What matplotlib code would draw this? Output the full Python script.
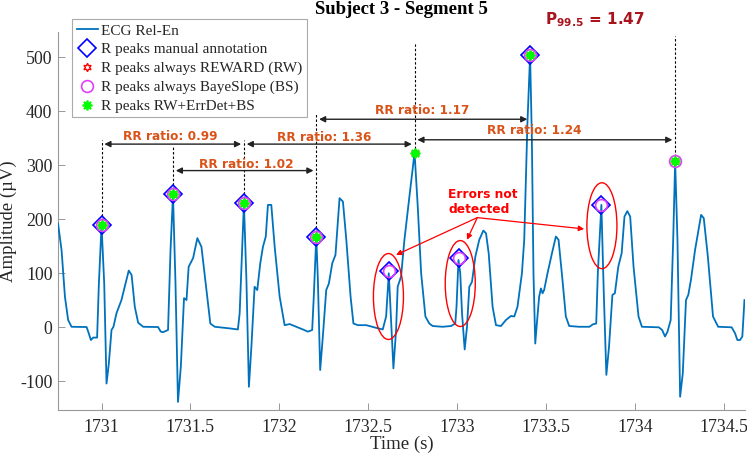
import matplotlib
matplotlib.use("Agg")
import matplotlib.pyplot as plt
from matplotlib.patches import Ellipse

# ---------------- data ----------------
ecg_t = [1730.755, 1730.775, 1730.794, 1730.812, 1730.831, 1730.916, 1730.925, 1730.94, 1730.953, 1730.975,
         1730.985, 1731.000, 1731.015, 1731.028, 1731.041, 1731.056, 1731.067, 1731.084, 1731.112, 1731.135,
         1731.153, 1731.169, 1731.187, 1731.206, 1731.234, 1731.318, 1731.333, 1731.346, 1731.374, 1731.388,
         1731.402, 1731.416, 1731.430, 1731.446, 1731.464, 1731.478, 1731.490, 1731.515, 1731.539, 1731.562,
         1731.590, 1731.612, 1731.637, 1731.721, 1731.767, 1731.777, 1731.801, 1731.815, 1731.829, 1731.843,
         1731.861, 1731.876, 1731.893, 1731.908, 1731.924, 1731.936, 1731.955, 1731.974, 1732.002, 1732.030,
         1732.058, 1732.096, 1732.133, 1732.161, 1732.185, 1732.194, 1732.208, 1732.217, 1732.230, 1732.245,
         1732.264, 1732.279, 1732.298, 1732.316, 1732.339, 1732.358, 1732.377, 1732.401, 1732.417, 1732.442,
         1732.489, 1732.545, 1732.582, 1732.601, 1732.616, 1732.625, 1732.642, 1732.657, 1732.666, 1732.685,
         1732.704, 1732.732, 1732.761, 1732.779, 1732.798, 1732.822, 1732.844, 1732.863, 1732.919, 1732.966,
         1732.990, 1732.997, 1733.008, 1733.018, 1733.028, 1733.043, 1733.056, 1733.069, 1733.084, 1733.103,
         1733.125, 1733.148, 1733.163, 1733.178, 1733.200, 1733.219, 1733.247, 1733.275, 1733.303, 1733.322,
         1733.340, 1733.365, 1733.378, 1733.396, 1733.411, 1733.421, 1733.430, 1733.440, 1733.449, 1733.462,
         1733.472, 1733.481, 1733.490, 1733.509, 1733.534, 1733.556, 1733.571, 1733.593, 1733.612, 1733.631,
         1733.687, 1733.745, 1733.764, 1733.783, 1733.792, 1733.812, 1733.825, 1733.840, 1733.855, 1733.874,
         1733.888, 1733.907, 1733.926, 1733.942, 1733.958, 1733.974, 1733.993, 1734.021, 1734.040, 1734.135,
         1734.154, 1734.170, 1734.184, 1734.202, 1734.216, 1734.227, 1734.240, 1734.255, 1734.270, 1734.288,
         1734.301, 1734.316, 1734.339, 1734.373, 1734.388, 1734.411, 1734.440, 1734.469, 1734.545, 1734.564,
         1734.577, 1734.592, 1734.605, 1734.617]
ecg_v = [192.6, 143, 56.7, 13.5, 1, 0.5, -8, -23.5, -19, -19,
         81, 189, 81, -104, -67, -5, 1, 26, 50.5, 81,
         105, 97, 38, 8.5, 1, 0.5, -8, -9, -5, 143,
         245, 81, -138, -73, 54, 50.5, 112, 128, 165, 149,
         69, 7, 1, -2, -4, 26, 230, 88, -110, -36,
         75, 69, 118.5, 149, 168, 226.5, 226.5, 149, 56.7, 4,
         6, 1, -4, -8, -5, 57, 168, 88, -79, -17,
         69, 81, 118.5, 134, 239, 232.6, 162, 57, 7, 4,
         4, -1, -4, 20, 100, 38, -76, -5, 75, 94,
         162, 242, 323, 223, 100, 20, 7, 2.4, 1, 2.4,
         7, 38, 124.6, 100, 26, -41, 1, 75, 84, 131,
         162, 179, 174, 137, 38, 4, 2.4, 13.5, 21, 20,
         38, 100, 162, 378, 504, 347, 100, -30, 7, 57,
         72, 63, 69, 100, 137, 168, 162, 88, 20, 2.4,
         1, 1, 5.5, 7, 100, 226.5, 69, -88, -36, 60,
         63, 112, 137, 205, 215, 205, 112, 20, 1, 0,
         -5, -17, -8, 13.5, 162, 307, 162, -128.5, -85, 50.5,
         60, 88, 143, 208, 202, 131, 20, 1, 0, -11,
         -23.5, -23.5, -17, 50.5]

manual_t = [1731.000, 1731.402, 1731.801, 1732.208, 1732.616, 1733.010, 1733.411, 1733.809]
manual_v = [189, 246, 230, 167, 104, 128, 504, 226]
rw_t = [1731.000, 1731.402, 1731.801, 1732.208, 1732.761, 1733.411, 1734.227]
rw_v = [189, 246, 230, 167, 323, 504, 308]
bs_t = [1731.000, 1731.402, 1731.801, 1732.208, 1732.616, 1733.010, 1733.411, 1733.809, 1734.227]
bs_v = [189, 246, 230, 167, 104, 128, 504, 226, 308]
final_t = [1731.000, 1731.402, 1731.801, 1732.208, 1732.761, 1733.411, 1734.227]
final_v = [189, 246, 230, 167, 323, 504, 308]

vline_t = [1731.000, 1731.402, 1731.801, 1732.208, 1732.761, 1734.227]
vline_bottom = [189, 246, 230, 167, 323, 308]
vline_top = [347, 334, 347, 397, 528, 539]

rr_labels = ['RR ratio: 0.99', 'RR ratio: 1.02', 'RR ratio: 1.36', 'RR ratio: 1.17', 'RR ratio: 1.24']
rr_start = [1731.000, 1731.402, 1731.801, 1732.208, 1732.761]
rr_end = [1731.801, 1732.208, 1732.761, 1733.411, 1734.227]
rr_y = [339, 290, 339, 385, 347]
rr_label_t = [1731.385, 1731.815, 1732.254, 1732.805, 1733.434]
rr_label_v = [353, 302, 352, 402, 364]

err_t = [1732.614, 1733.018, 1733.815]
err_v = [57, 81, 188]
err_text = 'Errors not\ndetected'
err_text_pos = (1732.951, 232)
err_arrow_from = (1733.114, 203)
err_arrow_to_t = [1732.657, 1733.056, 1733.715]
err_arrow_to_v = [134, 162, 182]

xticks = [1731, 1731.5, 1732, 1732.5, 1733, 1733.5, 1734, 1734.5]
xtick_labels = ['1731', '1731.5', '1732', '1732.5', '1733', '1733.5', '1734', '1734.5']
yticks = [-100, 0, 100, 200, 300, 400, 500]
ytick_labels = ['-100', '0', '100', '200', '300', '400', '500']

title = 'Subject 3 - Segment 5'
p_text = r'$\mathbf{P_{99.5}}$' + ' = 1.47'

# ---------------- figure ----------------
W, H = 747, 458
fig = plt.figure(figsize=(W / 100, H / 100), dpi=100)
ax = fig.add_axes([58 / W, 1 - 410 / H, (745 - 58) / W, (410 - 31.7) / H])

serif = 'Liberation Serif'
txtc = '#262626'
orange = '#D95319'

ax.plot(ecg_t, ecg_v, color='#0072BD', lw=1.3, label='ECG Rel-En', zorder=3)

for t, b, tp in zip(vline_t, vline_bottom, vline_top):
    ax.plot([t, t], [b, tp], color='black', lw=0.8, ls=(0, (2.2, 1.8)), zorder=2)

ax.plot(manual_t, manual_v, ls='none', marker='D', ms=9, mfc='none', mec='#0000FF', mew=1.2,
        label='R peaks manual annotation', zorder=4)
ax.plot(rw_t, rw_v, ls='none', marker=(6, 1, 0), ms=6, mfc='none', mec='#FF0000', mew=1.0,
        label='R peaks always REWARD (RW)', zorder=5)
ax.plot(bs_t, bs_v, ls='none', marker='o', ms=8.5, mfc='none', mec='#E040FB', mew=1.2,
        label='R peaks always BayeSlope (BS)', zorder=6)
ax.plot(final_t, final_v, ls='none', marker=(8, 2, 0), ms=7, mec='#00FF00', mfc='#00FF00', mew=1.3,
        label='R peaks RW+ErrDet+BS', zorder=7)

for lab, s, e, y, lt, lv in zip(rr_labels, rr_start, rr_end, rr_y, rr_label_t, rr_label_v):
    ax.annotate('', xy=(e, y), xytext=(s, y),
                arrowprops=dict(arrowstyle='<|-|>', color='#222222', lw=1.0,
                                shrinkA=2, shrinkB=2, mutation_scale=9), zorder=8)
    ax.text(lt, lv, lab, color=orange, fontsize=8.7, fontweight='bold',
            family='DejaVu Sans', ha='center', va='center', zorder=9)

for t, v in zip(err_t, err_v):
    ax.add_patch(Ellipse((t, v), width=0.169, height=159, fill=False, ec='#FF0000', lw=1.0, zorder=8))

ax.text(err_text_pos[0], err_text_pos[1], err_text, color='#FF0000', fontsize=8.8, fontweight='bold',
        family='DejaVu Sans', ha='left', va='center', linespacing=1.15, zorder=9)
for t, v in zip(err_arrow_to_t, err_arrow_to_v):
    ax.annotate('', xy=(t, v), xytext=err_arrow_from,
                arrowprops=dict(arrowstyle='-|>', color='#FF0000', lw=0.9,
                                shrinkA=0, shrinkB=0, mutation_scale=8), zorder=9)

ax.set_xlim(1730.755, 1734.62)
ax.set_ylim(-153, 547)
ax.set_xticks(xticks)
ax.set_xticklabels(xtick_labels, family=serif, fontsize=12.8, color=txtc)
ax.set_yticks(yticks)
ax.set_yticklabels(ytick_labels, family=serif, fontsize=12.8, color=txtc)
ax.tick_params(direction='in', length=5, width=0.6, color='#888888')
ax.tick_params(axis='x', pad=6.5)
ax.tick_params(axis='y', pad=4)
for side in ['top', 'right']:
    ax.spines[side].set_visible(False)
for side in ['left', 'bottom']:
    ax.spines[side].set_color('#999999')
    ax.spines[side].set_linewidth(0.8)

ax.set_xlabel('Time (s)', family=serif, fontsize=13.5, color=txtc, labelpad=0)
ax.set_ylabel('Amplitude (µV)', family=serif, fontsize=13.5, color=txtc, labelpad=2)

fig.text(401.5 / W, 1 - 14 / H, title, family=serif, fontweight='bold', fontsize=13.5,
         ha='center', va='baseline', color='black')
fig.text(595 / W, 1 - 19.5 / H, p_text, family='DejaVu Sans', fontweight='bold', fontsize=11,
         ha='center', va='center', color='#A8141E')

leg = ax.legend(loc='upper left', bbox_to_anchor=(72.3 / W, 1 - 19.3 / H), bbox_transform=fig.transFigure,
                prop={'family': serif, 'size': 11}, frameon=True, fancybox=False, framealpha=1,
                edgecolor='#AAAAAA', borderpad=0.3, labelspacing=0.33, handlelength=1.35,
                handletextpad=0.25, borderaxespad=0, numpoints=1)
leg.get_frame().set_linewidth(0.8)
for t in leg.get_texts():
    t.set_color(txtc)
leg.set_zorder(20)

fig.savefig('out.png', dpi=100)
